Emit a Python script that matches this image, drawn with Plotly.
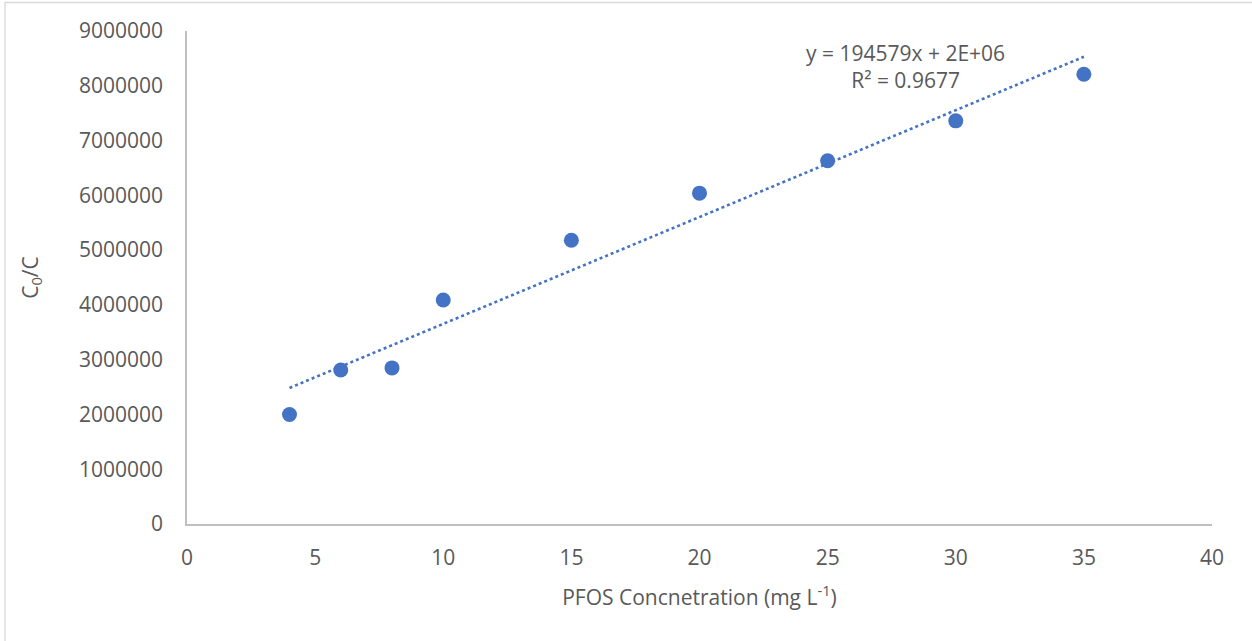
import numpy as np
import plotly.graph_objects as go

# Data
concentration = [4, 6, 8, 10, 15, 20, 25, 30, 35]
c0_over_c = [2000000, 2810000, 2850000, 4090000, 5180000, 6040000, 6630000, 7360000, 8210000]
x_ticks = [0, 5, 10, 15, 20, 25, 30, 35, 40]
y_ticks = [0, 1000000, 2000000, 3000000, 4000000, 5000000, 6000000, 7000000, 8000000, 9000000]
trend_label = "y = 194579x + 2E+06<br>R² = 0.9677"

# Linear trendline fitted from the data
slope, intercept = np.polyfit(concentration, c0_over_c, 1)
trend_x = [min(concentration), max(concentration)]
trend_y = [slope * v + intercept for v in trend_x]

blue = "#4472C4"
font_family = "Open Sans, Liberation Sans, sans-serif"
txt = "#595959"
fs = 21

fig = go.Figure()
fig.add_trace(go.Scatter(
    x=trend_x, y=trend_y, mode="lines",
    line=dict(color=blue, width=2.6, dash="dot"),
    hoverinfo="skip", showlegend=False))
fig.add_trace(go.Scatter(
    x=concentration, y=c0_over_c, mode="markers",
    marker=dict(color=blue, size=15, line=dict(width=0)),
    showlegend=False))

L, R, T, B = 187, 40, 31, 117
W, H = 1252, 641
pw, ph = W - L - R, H - T - B

def px_x(px):
    return (px - L) / pw

def px_y(py):
    return (H - B - py) / ph

fig.add_shape(type="rect", xref="paper", yref="paper",
              x0=px_x(5), x1=px_x(1260), y0=px_y(650), y1=px_y(2.5),
              line=dict(color="#D9D9D9", width=1.3), fillcolor="rgba(0,0,0,0)", layer="below")

fig.add_annotation(x=px_x(905), y=px_y(66), xref="paper", yref="paper",
                   xanchor="center", yanchor="middle",
                   text=trend_label, showarrow=False, align="center",
                   font=dict(family=font_family, size=fs, color=txt))

fig.update_layout(
    width=W, height=H,
    margin=dict(l=L, r=R, t=T, b=B),
    paper_bgcolor="white", plot_bgcolor="white",
    font=dict(family=font_family, size=fs, color=txt),
    xaxis=dict(range=[0, 40], tickvals=x_ticks, ticktext=[str(v) for v in x_ticks],
               showgrid=False, zeroline=False, showline=True, linecolor="#BFBFBF", linewidth=1.5,
               ticks="", ticklabelstandoff=14, tickfont=dict(family=font_family, size=fs, color=txt),
               title=dict(text="PFOS Concnetration (mg L<sup>-1</sup>)", standoff=20,
                          font=dict(family=font_family, size=fs, color=txt))),
    yaxis=dict(range=[0, 9000000], tickvals=y_ticks, ticktext=[str(v) for v in y_ticks],
               showgrid=False, zeroline=False, showline=True, linecolor="#BFBFBF", linewidth=1.5,
               ticks="", ticklabelstandoff=18, tickfont=dict(family=font_family, size=fs, color=txt),
               title=dict(text="C<sub>0</sub>/C", standoff=35,
                          font=dict(family=font_family, size=fs, color=txt))),
)

fig.write_html("out.html")
